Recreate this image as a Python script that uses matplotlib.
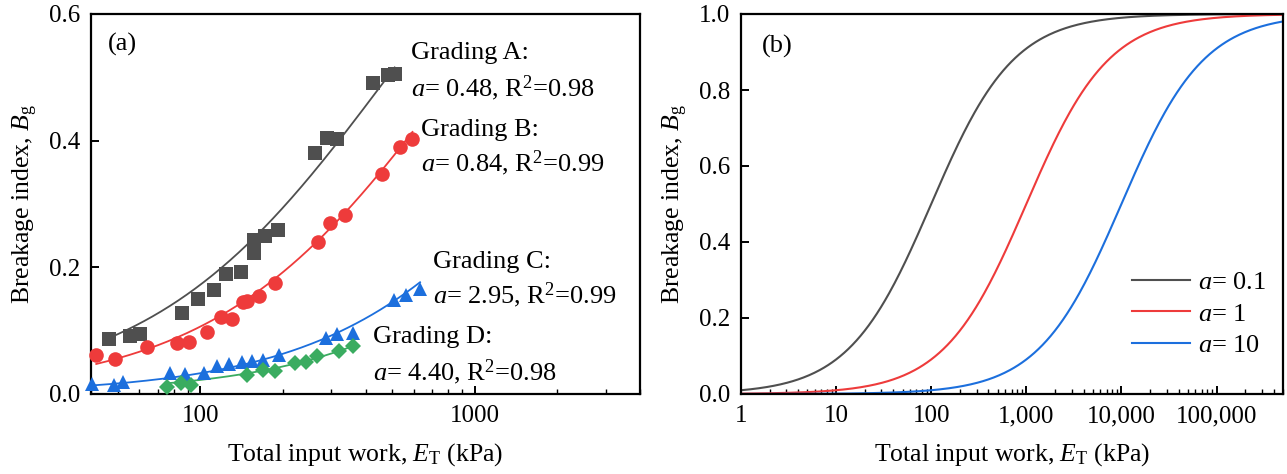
import numpy as np
import matplotlib
matplotlib.use("Agg")
import matplotlib.pyplot as plt
from matplotlib.ticker import FuncFormatter, LogLocator, NullFormatter, MultipleLocator

plt.rcParams['font.family'] = ['Liberation Serif', 'DejaVu Serif']
plt.rcParams['mathtext.fontset'] = 'custom'
plt.rcParams['mathtext.rm'] = 'Liberation Serif'
plt.rcParams['mathtext.it'] = 'Liberation Serif:italic'
plt.rcParams['font.size'] = 18

# measured points, panel (a)
E_A = [46.7, 55.4, 60.3, 86.1, 98.3, 112.3, 124.6, 140.3, 156.6, 156.6, 172.3, 191.4,
       260.9, 289, 315.5, 427.6, 483, 511]
B_A = [0.087, 0.092, 0.095, 0.128, 0.150, 0.164, 0.189, 0.192, 0.243, 0.223, 0.249, 0.259,
       0.380, 0.405, 0.403, 0.491, 0.504, 0.506]

E_B = [41.8, 48.8, 63.9, 82.3, 91.3, 105.8, 119.4, 130.8, 142.7, 148.5, 164.3, 186.6,
       269.2, 297.3, 337.5, 460, 533, 593]
B_B = [0.061, 0.055, 0.075, 0.080, 0.082, 0.098, 0.121, 0.118, 0.146, 0.147, 0.155, 0.176,
       0.240, 0.270, 0.283, 0.347, 0.390, 0.402]

E_C = [40.3, 48.4, 52.2, 77.8, 88.3, 103.2, 115.5, 127.5, 141.5, 154, 170, 193,
       286.4, 316, 361, 507, 561, 632]
B_C = [0.016, 0.014, 0.019, 0.033, 0.031, 0.033, 0.045, 0.048, 0.050, 0.052, 0.054, 0.061,
       0.089, 0.095, 0.097, 0.149, 0.156, 0.166]

E_D = [75.6, 85.2, 92.7, 147.6, 170, 187.5, 222, 243, 267, 319, 359]
B_D = [0.011, 0.018, 0.014, 0.030, 0.038, 0.036, 0.049, 0.051, 0.060, 0.068, 0.076]

a_fit = [0.48, 0.84, 2.95, 4.40]
r2_fit = [0.98, 0.99, 0.99, 0.98]
grading = ['A', 'B', 'C', 'D']

# panel (b)
a_demo = [0.1, 1, 10]

gray = '#4f4f4f'
red = '#ee3b3b'
blue = '#1c6fdd'
green = '#3aac60'


def bg_model(E, a):
    # hyperbolic breakage model, E in kPa, a in MPa
    return E / (E + 1000.0 * a)


def style_axis(ax):
    for s in ax.spines.values():
        s.set_linewidth(1.6)
    ax.tick_params(which='both', direction='in', top=False, right=False)
    ax.tick_params(which='major', length=6, width=1.4, pad=8)
    ax.tick_params(which='minor', length=3.5, width=1.0)


fig = plt.figure(figsize=(12.87, 4.74), dpi=100)
ax1 = fig.add_axes([91 / 1287, 80 / 474, 549 / 1287, 380 / 474])
ax2 = fig.add_axes([741 / 1287, 80 / 474, 542 / 1287, 380 / 474])

# ---- (a)
data = [(E_A, B_A, gray, 's', 9.5), (E_B, B_B, red, 'o', 10.5),
        (E_C, B_C, blue, '^', 10.5), (E_D, B_D, green, 'D', 8.5)]
for (E, B, c, m, ms), a in zip(data, a_fit):
    ee = np.logspace(np.log10(min(E)), np.log10(max(E)), 200)
    ax1.plot(ee, bg_model(ee, a), color=c, lw=1.3, zorder=2)
    ax1.plot(E, B, ls='none', marker=m, color=c, ms=ms, mew=0, zorder=3, clip_on=False)

ax1.set_xscale('log')
ax1.set_xlim(40, 4000)
ax1.set_ylim(0, 0.6)
ax1.yaxis.set_major_locator(MultipleLocator(0.2))
ax1.yaxis.set_major_formatter(FuncFormatter(lambda v, p: '%.1f' % v))
ax1.xaxis.set_major_formatter(FuncFormatter(lambda v, p: '%d' % v))
ax1.xaxis.set_minor_formatter(NullFormatter())
style_axis(ax1)
ax1.set_xlabel('Total input work, $E_\\mathrm{T}$ (kPa)', fontsize=18.5, labelpad=10)
ax1.set_ylabel('Breakage index, $B_\\mathrm{g}$', fontsize=18.5, labelpad=6)
ax1.text(0.03, 0.92, '(a)', transform=ax1.transAxes, va='center', fontsize=19)

pos = [(0.583, 0.897, 0.805), (0.602, 0.695, 0.608),
       (0.623, 0.347, 0.26), (0.513, 0.15, 0.057)]
for g, a, r2, (x, y1, y2) in zip(grading, a_fit, r2_fit, pos):
    ax1.text(x, y1, 'Grading %s:' % g, transform=ax1.transAxes, va='center', fontsize=19)
    ax1.text(x, y2, '$a$= %.2f, R$^2$=%.2f' % (a, r2), transform=ax1.transAxes,
             va='center', fontsize=19)

# ---- (b)
ee = np.logspace(0, np.log10(5e5), 400)
for a, c in zip(a_demo, [gray, red, blue]):
    ax2.plot(ee, bg_model(ee, a), color=c, lw=1.5, label='$a$= %g' % a)

ax2.set_xscale('log')
ax2.set_xlim(1, 5e5)
ax2.set_ylim(0, 1.0)
ax2.yaxis.set_major_locator(MultipleLocator(0.2))
ax2.yaxis.set_major_formatter(FuncFormatter(lambda v, p: '%.1f' % v))
ax2.xaxis.set_major_locator(LogLocator(base=10, numticks=10))
ax2.xaxis.set_minor_locator(LogLocator(base=10, subs=np.arange(2, 10), numticks=20))
ax2.xaxis.set_major_formatter(FuncFormatter(lambda v, p: '{:,.0f}'.format(v)))
ax2.xaxis.set_minor_formatter(NullFormatter())
style_axis(ax2)
ax2.set_xlabel('Total input work, $E_\\mathrm{T}$ (kPa)', fontsize=18.5, labelpad=10)
ax2.set_ylabel('Breakage index, $B_\\mathrm{g}$', fontsize=18.5, labelpad=6)
ax2.text(0.038, 0.914, '(b)', transform=ax2.transAxes, va='center', fontsize=19)
ax2.legend(loc='lower right', bbox_to_anchor=(1.012, 0.035), frameon=False, fontsize=19,
           handlelength=2.2, handletextpad=0.3, labelspacing=0.3)

fig.savefig('out.png', dpi=100)
